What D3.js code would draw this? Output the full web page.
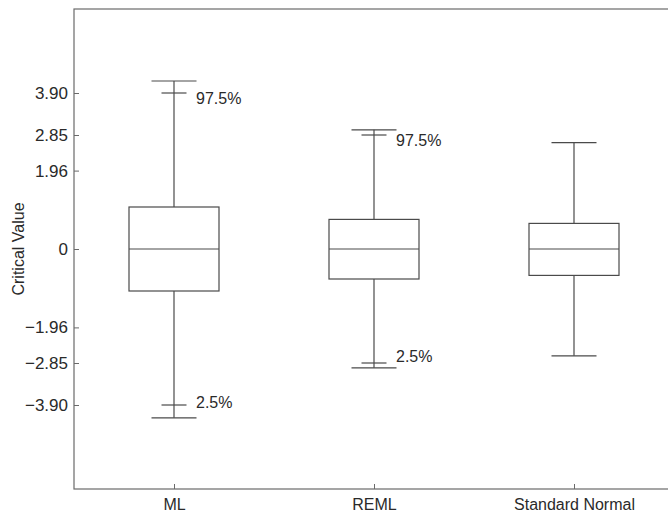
<!DOCTYPE html>
<html>
<head>
<meta charset="utf-8">
<script src="https://cdn.jsdelivr.net/npm/d3@7"></script>
<style>
  html, body { margin: 0; padding: 0; background: #fff; }
  svg { display: block; }
  text { font-family: "Liberation Sans", Arial, Helvetica, sans-serif; fill: #2a2a2a; }
</style>
</head>
<body>
<svg id="chart" width="668" height="514"></svg>
<script>
// ---- data ----
const categories   = ["ML", "REML", "Standard Normal"];
const whiskerLow   = [-4.22, -2.97, -2.67];
const quartile1    = [-1.05, -0.75, -0.66];
const medians      = [0, 0, 0];
const quartile3    = [1.05, 0.74, 0.64];
const whiskerHigh  = [4.20, 2.98, 2.66];
const pctUpper     = [3.90, 2.85, null];   // 97.5% marks
const pctLower     = [-3.90, -2.85, null]; // 2.5% marks
const pctUpperText = "97.5%";
const pctLowerText = "2.5%";
const yTickValues  = [-3.90, -2.85, -1.96, 0, 1.96, 2.85, 3.90];
const yTickLabels  = ["\u22123.90", "\u22122.85", "\u22121.96", "0", "1.96", "2.85", "3.90"];
const yTitle       = "Critical Value";

// ---- layout ----
const svg = d3.select("#chart");
const plotL = 74, plotR = 674, plotT = 9, plotB = 489;

const x = d3.scaleLinear().domain([0.5, categories.length + 0.5]).range([plotL, plotR]);
const y = d3.scaleLinear().domain([-6, 6]).range([plotB, plotT]);

const boxW = 0.45, capW = 0.225, pctW = 0.125;
const lineColor = "#4a4a4a";

// frame
svg.append("rect")
  .attr("x", plotL).attr("y", plotT)
  .attr("width", plotR - plotL).attr("height", plotB - plotT)
  .attr("fill", "none").attr("stroke", "#6a6a6a").attr("stroke-width", 1.2);

// y axis (inward ticks)
const yAxis = d3.axisLeft(y)
  .tickValues(yTickValues)
  .tickSize(-5)
  .tickPadding(6)
  .tickFormat((d, i) => yTickLabels[i]);
const gy = svg.append("g").attr("transform", `translate(${plotL},0)`).call(yAxis);
gy.select(".domain").remove();
gy.selectAll(".tick line").attr("stroke", "#6a6a6a");
gy.selectAll(".tick text").style("font-size", "17px").attr("fill", "#2a2a2a");

// x axis (inward ticks)
const xAxis = d3.axisBottom(x)
  .tickValues(categories.map((c, i) => i + 1))
  .tickSize(-5)
  .tickPadding(10)
  .tickFormat((d, i) => categories[i]);
const gx = svg.append("g").attr("transform", `translate(0,${plotB})`).call(xAxis);
gx.select(".domain").remove();
gx.selectAll(".tick line").attr("stroke", "#6a6a6a");
gx.selectAll(".tick text").style("font-size", "16px").attr("fill", "#2a2a2a");

// y title
svg.append("text")
  .attr("transform", `translate(24,${y(0)}) rotate(-90)`)
  .attr("text-anchor", "middle")
  .style("font-size", "16px")
  .text(yTitle);

// boxes
const g = svg.append("g").attr("stroke", lineColor).attr("stroke-width", 1.2).attr("fill", "none");
categories.forEach((c, i) => {
  const cx = x(i + 1);
  const hw = (x(boxW) - x(0)) / 2;
  const cw = (x(capW) - x(0)) / 2;
  const pw = (x(pctW) - x(0)) / 2;
  // whiskers
  g.append("line").attr("x1", cx).attr("x2", cx).attr("y1", y(quartile3[i])).attr("y2", y(whiskerHigh[i]));
  g.append("line").attr("x1", cx).attr("x2", cx).attr("y1", y(quartile1[i])).attr("y2", y(whiskerLow[i]));
  // caps
  g.append("line").attr("x1", cx - cw).attr("x2", cx + cw).attr("y1", y(whiskerHigh[i])).attr("y2", y(whiskerHigh[i]));
  g.append("line").attr("x1", cx - cw).attr("x2", cx + cw).attr("y1", y(whiskerLow[i])).attr("y2", y(whiskerLow[i]));
  // box
  g.append("rect").attr("x", cx - hw).attr("y", y(quartile3[i]))
    .attr("width", 2 * hw).attr("height", y(quartile1[i]) - y(quartile3[i]));
  // median
  g.append("line").attr("x1", cx - hw).attr("x2", cx + hw).attr("y1", y(medians[i])).attr("y2", y(medians[i]));
  // percentile marks
  if (pctUpper[i] != null) {
    g.append("line").attr("x1", cx - pw).attr("x2", cx + pw).attr("y1", y(pctUpper[i])).attr("y2", y(pctUpper[i]));
    svg.append("text").attr("x", cx + 22).attr("y", y(pctUpper[i]) + 11)
      .style("font-size", "16px").text(pctUpperText);
  }
  if (pctLower[i] != null) {
    g.append("line").attr("x1", cx - pw).attr("x2", cx + pw).attr("y1", y(pctLower[i])).attr("y2", y(pctLower[i]));
    svg.append("text").attr("x", cx + 22).attr("y", y(pctLower[i]) + (i === 0 ? 3 : -1))
      .style("font-size", "16px").text(pctLowerText);
  }
});
</script>
</body>
</html>
